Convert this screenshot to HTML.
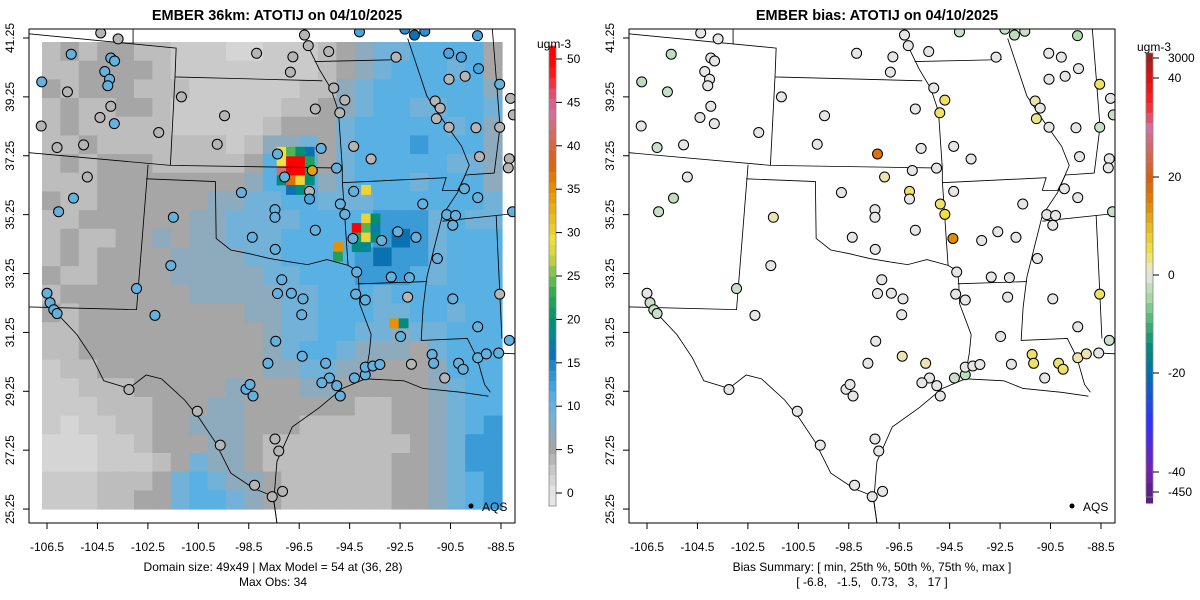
<!DOCTYPE html>
<html><head><meta charset="utf-8">
<style>
html,body{margin:0;padding:0;background:#fff;}
svg{display:block;font-family:"Liberation Sans",Arial,sans-serif;}
</style></head>
<body>
<svg id="root" width="1200" height="600" viewBox="0 0 1200 600">
<defs>
<clipPath id="clipL"><rect x="29" y="29" width="486" height="494"/></clipPath>
<clipPath id="clipR"><rect x="629" y="29" width="486" height="494"/></clipPath>
</defs>
<text x="277" y="20" text-anchor="middle" font-size="14.5" font-weight="bold">EMBER 36km: ATOTIJ on 04/10/2025</text>
<text x="877" y="20" text-anchor="middle" font-size="14.5" font-weight="bold">EMBER bias: ATOTIJ on 04/10/2025</text>
<g id="leftMap" clip-path="url(#clipL)"></g>
<g id="rightMap" clip-path="url(#clipR)"></g>
<rect x="29" y="29" width="486" height="494" fill="none" stroke="#000"/>
<rect x="629" y="29" width="486" height="494" fill="none" stroke="#000"/>
<g id="axes"></g>
<g id="cbarL"></g>
<g id="cbarR"></g>
<text x="554" y="48" text-anchor="middle" font-size="12">ugm-3</text>
<text x="1154" y="51" text-anchor="middle" font-size="12">ugm-3</text>
<circle cx="471" cy="506" r="2.5" fill="#000"/>
<text x="482" y="511" font-size="12">AQS</text>
<circle cx="1072" cy="506" r="2.5" fill="#000"/>
<text x="1083" y="511" font-size="12">AQS</text>
<text x="273" y="571" text-anchor="middle" font-size="12">Domain size: 49x49 | Max Model = 54 at (36, 28)</text>
<text x="273" y="586" text-anchor="middle" font-size="12">Max Obs: 34</text>
<text x="872" y="571" text-anchor="middle" font-size="12">Bias Summary: [ min, 25th %, 50th %, 75th %, max ]</text>
<text x="872" y="586" text-anchor="middle" font-size="12" xml:space="preserve">[ -6.8,   -1.5,   0.73,   3,   17 ]</text>
</svg>
<script>
// ---- data ----
const lonTicks=[-106.5,-104.5,-102.5,-100.5,-98.5,-96.5,-94.5,-92.5,-90.5,-88.5];
const latTicks=[41.25,39.25,37.25,35.25,33.25,31.25,29.25,27.25,25.25];
const cbarTicksL=[0,5,10,15,20,25,30,35,40,45,50];
const cbarTicksR=[-450,-40,-20,0,20,40,3000];
const levelValues=[1.5,2.5,3.5,5,7,9,11,13,16];
const gridRows=[
"2323322111001112345566663","2233332111111112345666563","3233322211111122456666664","2322332111111223456655665",
"2322222111112333566666564","2232222222124453566676664","2323332222236663566666554","2223333333346664566656664",
"3223333334455665556666665","2233333344555566667775655","2322334344555666667875666","2323333444455666678775666",
"3223333444445566677765666","2333333344444556665666666","3233333333344556665566566","2233333333334556655455666",
"2233333333334566544435666","1223333333334455443334666","1122233333433344333334566","1112223334433333322334566",
"1011223344433322222334567","0001123334432222222234577","0001112354432222222334577","1112223565443222222334567",
"1112233566543222222334567"];
const hotCols=[25,26,27,28,25,26,27,28,25,26,27,28,25,26,27,28,26,27,34,34,35,33,34,35,33,34,35,31,33,34,31,37,38];
const hotRows=[11,11,11,11,12,12,12,12,13,13,13,13,14,14,14,14,15,15,15,18,18,19,19,19,20,20,20,21,21,21,22,29,29];
const hotVals=[29,24,20,16,29,50,50,22,42,50,50,21,19,37,30,19,16,19,30,30,20,50,24,17,22,30,19,35,19,18,22,35,19];
const stLon=[-104.37,-103.68,-105.54,-103.97,-103.82,-104.21,-104.02,-104.09,-106.71,-105.69,-103.97,-104.40,-103.83,-106.73,-106.10,-105.05,-104.90,-105.45,-106.04,-102.07,-101.17,-99.46,-99.75,-98.19,-96.75,-96.85,-96.29,-96.14,-95.33,-95.86,-95.13,-94.69,-94.89,-94.11,-92.31,-91.93,-91.52,-89.43,-92.66,-90.57,-90.07,-89.39,-90.56,-89.92,-88.55,-88.12,-88.01,-88.55,-89.49,-90.56,-91.11,-90.91,-91.06,-89.35,-88.17,-88.21,-94.34,-93.65,-95.63,-97.36,-97.08,-95.02,-95.98,-96.09,-96.09,-98.79,-97.46,-97.46,-94.87,-94.69,-95.86,-94.37,-93.23,-92.59,-91.87,-94.34,-91.60,-90.65,-90.30,-90.41,-89.42,-89.95,-88.04,-91.02,-94.22,-92.85,-92.13,-94.26,-93.88,-92.20,-90.41,-88.55,-97.19,-97.45,-98.36,-101.49,-101.59,-102.95,-106.5,-106.38,-106.23,-106.10,-102.22,-97.36,-96.81,-96.35,-96.40,-97.43,-96.38,-97.74,-95.45,-95.30,-95.60,-95.01,-94.87,-94.31,-93.88,-93.88,-93.58,-93.30,-92.05,-92.48,-91.23,-91.17,-90.73,-90.18,-90.0,-89.42,-89.08,-88.59,-88.17,-89.42,-98.61,-98.45,-98.33,-103.25,-100.54,-99.63,-97.46,-97.31,-98.27,-97.16,-97.57];
const stLat=[41.42,41.22,40.70,40.57,40.47,40.11,39.85,39.63,39.76,39.42,38.93,38.55,38.34,38.26,37.53,37.62,36.53,35.81,35.35,38.04,39.25,38.61,37.64,40.73,40.61,40.09,41.35,40.99,40.79,38.84,39.55,39.14,38.71,41.46,41.55,41.35,41.48,41.33,40.60,40.73,40.60,40.21,39.85,39.95,39.68,39.20,38.64,38.22,38.20,38.22,39.11,38.87,38.51,37.22,37.15,36.84,37.57,37.14,37.50,37.31,36.53,36.83,36.75,36.04,35.78,36.00,35.42,35.16,35.61,35.26,34.72,34.44,34.37,34.67,34.48,36.04,35.61,35.25,35.22,34.89,35.83,36.13,35.35,33.76,33.30,33.13,33.11,32.55,32.35,32.45,32.39,32.55,33.04,34.07,34.48,35.16,33.52,32.74,32.58,32.26,32.02,31.89,31.83,32.57,32.58,32.39,31.85,30.95,30.44,30.20,30.20,29.70,29.54,29.44,29.09,29.70,29.81,30.07,30.11,30.16,30.17,31.11,30.50,30.20,29.70,30.20,30.00,30.39,30.52,30.55,30.98,31.44,29.32,29.48,29.09,29.31,28.57,27.42,27.63,27.22,26.06,25.85,25.67];
const stObs=[4,4,10,10,10,10,10,10,10,4,4,4,10,4,4,4,4,10,10,4,4,4,4,4,4,4,4,4,4,4,4,4,4,12,14,16,14,12,4,12,12,12,4,4,10,4,4,4,4,4,4,4,4,4,4,4,4,4,10,10,10,10,34,4,12,10,10,10,10,10,10,10,10,10,10,10,10,10,10,10,10,10,10,10,10,10,10,10,10,4,10,4,10,10,10,10,10,10,10,10,10,10,10,10,10,10,10,10,10,10,10,10,10,10,10,10,10,10,10,10,4,10,10,10,4,10,10,10,10,10,10,10,10,10,10,4,4,4,4,4,4,4,4];
const stBias=[0,0,-3,0,0,0,0,0,-3,-2,0,0,0,0,-2,0,0,-3,-2,0,0,0,0,0,0,0,0,0,0,0,0,4,4,-2,-2,-3,-2,-4,0,0,0,0,0,0,4,0,-2,-2,0,0,2,0,3,0,0,0,0,0,0,17,2,0,0,4,0,0,0,0,4,5,0,14,0,0,0,0,0,0,0,0,0,0,-2,0,0,0,0,0,0,0,0,4,0,0,0,2,0,-2,0,-2,-2,-2,0,0,0,0,0,0,2,0,2,0,0,0,0,-2,-3,0,0,0,0,0,4,4,0,4,4,2,2,0,-2,0,0,0,0,0,0,0,0,0,0,0,0,0];
// ---- scales ----
const LX0=47, PXD=25.22, LY0=38, PYD=29.44;
function xLon(lon,off){return off+LX0+(lon+106.5)*PXD;}
function yLat(lat){return LY0+(41.25-lat)*PYD;}
const NS='http://www.w3.org/2000/svg';
function mk(tag,attrs,parent){const e=document.createElementNS(NS,tag);for(const k in attrs)e.setAttribute(k,attrs[k]);parent.appendChild(e);return e;}
function hex(c){return [parseInt(c.slice(1,3),16),parseInt(c.slice(3,5),16),parseInt(c.slice(5,7),16)];}
function interp(stops,v){if(v<=stops[0][0])return stops[0][1];for(let i=1;i<stops.length;i++){if(v<=stops[i][0]){const a=stops[i-1],b=stops[i];const t=(v-a[0])/(b[0]-a[0]);const ca=hex(a[1]),cb=hex(b[1]);return 'rgb('+ca.map((x,j)=>Math.round(x+(cb[j]-x)*t)).join(',')+')';}}return stops[stops.length-1][1];}
const modelStops=[[0,'#e6e6e6'],[3,'#c4c4c4'],[5,'#a6a6a6'],[7,'#8eaabd'],[9,'#72b2d8'],[11,'#58b0e3'],[14,'#2c90d0'],[16,'#0a72b2'],[18,'#008898'],[20,'#009070'],[23,'#30a850'],[25,'#70c050'],[27,'#c8d040'],[29,'#f0e040'],[32,'#e8b820'],[35,'#e89000'],[38,'#d86010'],[42,'#d07070'],[44,'#d070a0'],[46,'#e05070'],[48,'#ff2020'],[50,'#ff0000']];
const biasStops=[[-450,'#5a2080'],[-40,'#7a20b0'],[-30,'#3030ff'],[-20,'#0070b0'],[-15,'#008a80'],[-10,'#40b070'],[-5,'#a0d8a0'],[-2,'#c8e0c8'],[0,'#e6e6e6'],[2,'#ece4b0'],[5,'#f0e040'],[10,'#e8b820'],[15,'#e08000'],[20,'#d86010'],[30,'#d070a0'],[35,'#ff2020'],[40,'#e01010'],[3000,'#a02020']];
// ---- left map grid ----
const L=document.getElementById('leftMap'), R=document.getElementById('rightMap');
const GX0=42,GY0=42,GW=460,GH=467;
const cw=GW/gridRows[0].length, ch=GH/gridRows.length;
gridRows.forEach((row,j)=>{for(let i=0;i<row.length;i++){
 const r=mk('rect',{x:GX0+i*cw,y:GY0+j*ch,width:cw+0.6,height:ch+0.6,fill:interp(modelStops,levelValues[+row[i]])},L);
 
 
}});
const hw=GW/49, hh=GH/49;
hotVals.forEach((v,k)=>{
 const r=mk('rect',{x:GX0+hotCols[k]*hw,y:GY0+hotRows[k]*hh,width:hw+0.4,height:hh+0.4,fill:interp(modelStops,v)},L);
 
 
});
// ---- borders ----
const borderPaths=["M75,88 L458,125 L455,200 L838,210","M346,75 L346,115","M455,200 L443,430","M75,397 L443,430 L890,437",
"M385,428 L355,805 L75,798","M380,465 L560,472 L562,620 L600,650 L650,660 L700,672 L760,682 L800,688 L850,675 L905,690",
"M890,437 L890,470 L905,690 L930,705 L933,740 L935,790 L965,870 L960,920 L950,975","M930,738 L1110,732",
"M890,475 L1160,462 L1150,495 L1190,495 L1210,455 L1285,450","M800,118 L830,180 L860,230 L880,290 L890,437",
"M818,160 L1045,155","M1060,100 L1080,160 L1110,250 L1150,310 L1200,380 L1220,430 L1190,500 L1150,560 L1130,640 L1110,720 L1100,800 L1095,885 L1215,880 L1240,930 L1260,1000 L1275,1020",
"M1290,560 L1305,880","M1150,575 L1340,555","M1280,75 L1290,200 L1300,330 L1285,450","M1300,918 L1340,920",
"M148,815 L200,870 L240,930 L270,990 L335,1010 L380,975 L420,985 L480,1040 L520,1090 L560,1150 L600,1230 L660,1270 L710,1290 L720,1360",
"M720,1360 L712,1300 L720,1200 L760,1110 L830,1060 L890,1010 L950,985 L1050,990 L1100,1010 L1200,1020 L1270,1030"];
[[L,0],[R,600]].forEach(([g,off])=>{
 const bg=mk('g',{transform:'translate('+off+',0) scale('+(1/2.6)+')',fill:'none',stroke:'#000'},g);
 
 
 borderPaths.forEach(d=>{const p=mk('path',{d:d,'stroke-width':2.2},bg);
  
  });
});
// ---- stations ----
stLon.forEach((lon,k)=>{
 const c1=mk('circle',{cx:xLon(lon,0),cy:yLat(stLat[k]),r:5,fill:interp(modelStops,stObs[k]),stroke:'#000','stroke-width':1},L);
 
 
 const c2=mk('circle',{cx:xLon(lon,600),cy:yLat(stLat[k]),r:5,fill:interp(biasStops,stBias[k]),stroke:'#000','stroke-width':1},R);
 
 
});
// ---- axes ----
const A=document.getElementById('axes');
[0,600].forEach(off=>{
 lonTicks.forEach(t=>{const x=xLon(t,off);
  const l=mk('line',{x1:x,x2:x,y1:523,y2:529,stroke:'#000'},A);
  
  
  const tx=mk('text',{x:x,y:551,'text-anchor':'middle','font-size':12},A);tx.textContent=t.toFixed(1);
  
  });
 latTicks.forEach(t=>{const y=yLat(t);
  const l=mk('line',{x1:off+23,x2:off+29,y1:y,y2:y,stroke:'#000'},A);
  
  
  const tx=mk('text',{x:0,y:0,'text-anchor':'middle','font-size':12,transform:'translate('+(off+14)+','+y+') rotate(-90)'},A);tx.textContent=t.toFixed(2);
  
  });
});
// ---- colorbars ----
const CL=document.getElementById('cbarL');
const cbY0=493, cbY1=59;
function yCbL(v){return cbY0-(v/50)*(cbY0-cbY1);}
for(let i=0;i<44;i++){const v0=-1.5+i*(53/44), v1=v0+53/44;
 const r=mk('rect',{x:549,y:yCbL(v1),width:7,height:yCbL(v0)-yCbL(v1)+0.5,fill:interp(modelStops,(v0+v1)/2)},CL);
 
 }
mk('rect',{x:549,y:yCbL(51.5),width:7,height:yCbL(-1.5)-yCbL(51.5),fill:'none',stroke:'#888','stroke-width':0.8},CL);
cbarTicksL.forEach(t=>{const y=yCbL(t);mk('line',{x1:556,x2:562,y1:y,y2:y,stroke:'#000'},CL);
 const tx=mk('text',{x:567,y:y+4,'font-size':12},CL);tx.textContent=t;
 
 });
const CR=document.getElementById('cbarR');
const biasPosV=[-450,-40,-20,0,20,40,3000], biasPosY=[492,472,373,275,177,78,58];
function yCbR(v){for(let i=1;i<biasPosV.length;i++){if(v<=biasPosV[i]){const t=(v-biasPosV[i-1])/(biasPosV[i]-biasPosV[i-1]);return biasPosY[i-1]+(biasPosY[i]-biasPosY[i-1])*t;}}return 58;}
function vCbR(y){for(let i=1;i<biasPosY.length;i++){if(y>=biasPosY[i]){const t=(y-biasPosY[i-1])/(biasPosY[i]-biasPosY[i-1]);return biasPosV[i-1]+(biasPosV[i]-biasPosV[i-1])*t;}}return 3000;}
for(let y=53;y<497;y+=10){const r=mk('rect',{x:1146,y:y,width:7,height:10.5,fill:interp(biasStops,vCbR(Math.min(y+5,492)))},CR);
 
 }
mk('rect',{x:1146,y:53,width:7,height:444,fill:'none',stroke:'#888','stroke-width':0.8},CR);
cbarTicksR.forEach(t=>{const y=yCbR(t);mk('line',{x1:1153,x2:1159,y1:y,y2:y,stroke:'#000'},CR);
 const tx=mk('text',{x:1168,y:y+4,'font-size':12},CR);tx.textContent=t;
 
 });
</script>
</body></html>
